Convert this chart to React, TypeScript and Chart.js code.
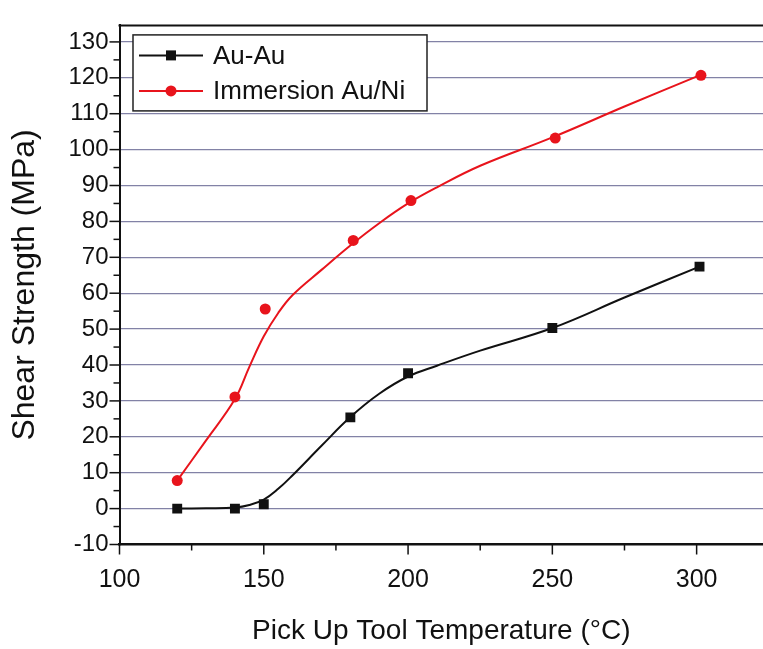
import React, { useEffect, useRef } from 'react';
import { Chart, registerables } from 'chart.js';

Chart.register(...registerables);

// Measured points
const AU_AU_TEMP = [120, 140, 150, 180, 200, 250, 301];
const AU_AU_STRENGTH = [0, 0, 1.2, 25.4, 37.7, 50.3, 67.4];
const AUNI_TEMP = [120, 140, 150.5, 181, 201, 251, 301.5];
const AUNI_STRENGTH = [7.8, 31.1, 55.6, 74.7, 85.8, 103.2, 120.7];

// Fitted curves
const FIT_TEMP = [120, 130, 140, 145, 150, 155, 160, 170, 180, 190, 200, 210, 225, 250, 275, 301];
const AU_AU_FIT = [0, 0.1, 0.3, 1, 2.5, 5.5, 9.3, 17.5, 25.5, 32, 36.8, 39.8, 44, 50.3, 58.8, 67.4];
const AUNI_FIT = [7.8, 19, 30.5, 39.5, 48, 54.5, 59.5, 66.5, 73.3, 79.5, 85, 89.5, 95.5, 103.4, 112, 120.7];

const X_TICKS = [100, 125, 150, 175, 200, 225, 250, 275, 300];
const Y_TICKS = [-10, -5, 0, 5, 10, 15, 20, 25, 30, 35, 40, 45, 50, 55, 60, 65, 70, 75, 80, 85, 90, 95, 100, 105, 110, 115, 120, 125, 130];

const SERIES_NAMES = ['Au-Au', 'Immersion Au/Ni'];
const X_TITLE = 'Pick Up Tool Temperature (°C)';
const Y_TITLE = 'Shear Strength (MPa)';

const FONT = '"Liberation Sans", Arial, sans-serif';
const BLACK = '#111111';
const RED = '#e8141c';
const GRID = '#8282a6';

const pts = (xs: number[], ys: number[]) => xs.map((x, i) => ({ x, y: ys[i] }));

const framePlugin = {
  id: 'frame',
  afterDraw(chart: any) {
    const { ctx, chartArea } = chart;
    const xs = chart.scales.x;
    const ys = chart.scales.y;
    ctx.save();
    ctx.strokeStyle = BLACK;
    ctx.lineWidth = 2;
    ctx.beginPath();
    ctx.moveTo(chartArea.left - 1, chartArea.top);
    ctx.lineTo(chart.width, chartArea.top);
    ctx.stroke();
    ctx.lineWidth = 1.5;
    X_TICKS.forEach((v) => {
      const p = xs.getPixelForValue(v);
      const len = v % 50 === 0 ? 10 : 6;
      ctx.beginPath();
      ctx.moveTo(p, chartArea.bottom);
      ctx.lineTo(p, chartArea.bottom + len);
      ctx.stroke();
    });
    Y_TICKS.forEach((v) => {
      const p = ys.getPixelForValue(v);
      const len = v % 10 === 0 ? 10 : 6;
      ctx.beginPath();
      ctx.moveTo(chartArea.left, p);
      ctx.lineTo(chartArea.left - len, p);
      ctx.stroke();
    });
    ctx.restore();
  },
};

const legendPlugin = {
  id: 'boxLegend',
  afterDatasetsDraw(chart: any) {
    const { ctx, chartArea } = chart;
    const bx = chartArea.left + 13.5;
    const by = chartArea.top + 9.5;
    const bw = 294;
    const bh = 76;
    ctx.save();
    ctx.fillStyle = '#ffffff';
    ctx.fillRect(bx, by, bw, bh);
    ctx.strokeStyle = '#222222';
    ctx.lineWidth = 1.5;
    ctx.strokeRect(bx, by, bw, bh);
    const rows = [
      { ds: chart.data.datasets[2], y: by + 20.5 },
      { ds: chart.data.datasets[3], y: by + 56 },
    ];
    rows.forEach(({ ds, y }) => {
      ctx.strokeStyle = ds.borderColor;
      ctx.lineWidth = 2;
      ctx.beginPath();
      ctx.moveTo(bx + 6, y);
      ctx.lineTo(bx + 70, y);
      ctx.stroke();
      ctx.fillStyle = ds.backgroundColor;
      const cx = bx + 38;
      if (ds.pointStyle === 'rect') {
        ctx.fillRect(cx - 5, y - 5, 10, 10);
      } else {
        ctx.beginPath();
        ctx.arc(cx, y, 5.5, 0, Math.PI * 2);
        ctx.fill();
      }
      ctx.fillStyle = BLACK;
      ctx.font = `26px ${FONT}`;
      ctx.textBaseline = 'middle';
      ctx.textAlign = 'left';
      ctx.fillText(ds.label, bx + 80, y + 1);
    });
    ctx.restore();
  },
};

export default function App() {
  const ref = useRef<HTMLCanvasElement | null>(null);

  useEffect(() => {
    if (!ref.current) return;
    const chart = new Chart(ref.current, {
      type: 'scatter',
      data: {
        datasets: [
          {
            label: SERIES_NAMES[0] + ' fit',
            data: pts(FIT_TEMP, AU_AU_FIT),
            showLine: true,
            borderColor: BLACK,
            borderWidth: 2,
            pointRadius: 0,
            tension: 0.4,
          },
          {
            label: SERIES_NAMES[1] + ' fit',
            data: pts(FIT_TEMP, AUNI_FIT),
            showLine: true,
            borderColor: RED,
            borderWidth: 2,
            pointRadius: 0,
            tension: 0.4,
          },
          {
            label: SERIES_NAMES[0],
            data: pts(AU_AU_TEMP, AU_AU_STRENGTH),
            showLine: false,
            pointStyle: 'rect',
            pointRadius: 7,
            borderWidth: 0,
            borderColor: BLACK,
            backgroundColor: BLACK,
          },
          {
            label: SERIES_NAMES[1],
            data: pts(AUNI_TEMP, AUNI_STRENGTH),
            showLine: false,
            pointStyle: 'circle',
            pointRadius: 5.5,
            borderWidth: 0,
            borderColor: RED,
            backgroundColor: RED,
          },
        ],
      } as any,
      options: {
        responsive: false,
        animation: false,
        layout: { autoPadding: false, padding: { top: 13, right: 0, bottom: 0, left: 0 } },
        plugins: {
          legend: { display: false },
          tooltip: { enabled: false },
        },
        scales: {
          x: {
            type: 'linear',
            min: 100,
            max: 323,
            afterBuildTicks: (s: any) => {
              s.ticks = X_TICKS.map((v) => ({ value: v }));
            },
            afterFit: (s: any) => {
              s.height = 104.5;
            },
            ticks: {
              autoSkip: false,
              maxRotation: 0,
              padding: 21,
              color: BLACK,
              font: { family: FONT, size: 25 },
              callback: (v: any) => (Number(v) % 50 === 0 ? String(v) : ''),
            },
            grid: { display: false, drawTicks: false },
            border: { display: true, color: BLACK, width: 2.5 },
            title: {
              display: true,
              text: X_TITLE,
              color: BLACK,
              font: { family: FONT, size: 28 },
              padding: { top: 0, bottom: 1 },
            },
          },
          y: {
            type: 'linear',
            min: -10,
            max: 134.6,
            afterBuildTicks: (s: any) => {
              s.ticks = Y_TICKS.map((v) => ({ value: v }));
            },
            afterFit: (s: any) => {
              s.width = 119.5;
            },
            ticks: {
              autoSkip: false,
              padding: 11,
              color: BLACK,
              font: { family: FONT, size: 24 },
              callback: (v: any) => (Number(v) % 10 === 0 ? String(v) : ''),
            },
            grid: {
              drawTicks: false,
              lineWidth: 1.3,
              color: (c: any) =>
                c.tick && c.tick.value % 10 === 0 && c.tick.value > -10 ? GRID : 'rgba(0,0,0,0)',
            },
            border: { display: true, color: BLACK, width: 2 },
            title: {
              display: true,
              text: Y_TITLE,
              color: BLACK,
              font: { family: FONT, size: 32 },
              padding: { top: 6, bottom: 0 },
            },
          },
        },
      } as any,
      plugins: [legendPlugin, framePlugin],
    });
    return () => chart.destroy();
  }, []);

  return (
    <div style={{ position: 'fixed', left: 0, top: 0, width: 763, height: 649, background: '#fff', overflow: 'hidden' }}>
      <canvas ref={ref} width={763} height={649} style={{ width: 763, height: 649, display: 'block' }} />
    </div>
  );
}
